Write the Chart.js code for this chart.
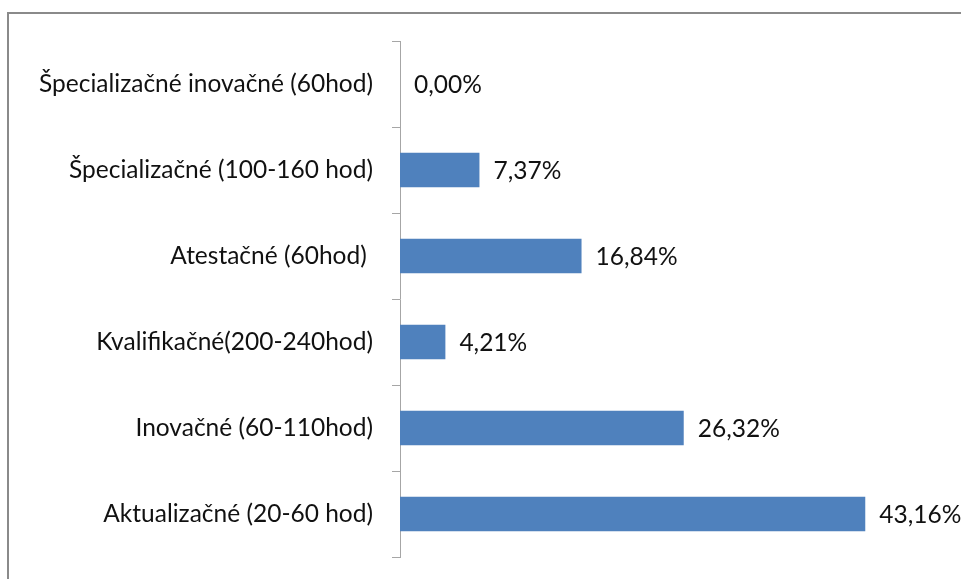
<!DOCTYPE html>
<html>
<head>
<meta charset="utf-8">
<script src="https://cdn.jsdelivr.net/npm/chart.js@4"></script>
<style>
  html, body { margin: 0; padding: 0; background: #ffffff; }
  #wrap { width: 961px; height: 579px; position: relative; }
</style>
</head>
<body>
<div id="wrap"><canvas id="c" width="961" height="579"></canvas></div>
<script>
// Categories from top to bottom
const categories = [
  'Špecializačné inovačné (60hod)',
  'Špecializačné (100-160 hod)',
  'Atestačné (60hod) ',
  'Kvalifikačné(200-240hod)',
  'Inovačné (60-110hod)',
  'Aktualizačné (20-60 hod)'
];
// Share of each course type, in percent
const shares = [0.00, 7.37, 16.84, 4.21, 26.32, 43.16];

const FONT = 'Lato, "Open Sans", sans-serif';
const FONT_SIZE = 24.5;

// Outer frame of the chart panel (runs off the canvas at right and bottom)
const framePlugin = {
  id: 'frame',
  beforeDraw(chart) {
    const ctx = chart.ctx;
    ctx.save();
    ctx.strokeStyle = '#8a8a8a';
    ctx.lineWidth = 2;
    ctx.strokeRect(8, 13, 1000, 1000);
    ctx.restore();
  }
};

// Percentage labels to the right of each bar
const valueLabels = {
  id: 'valueLabels',
  afterDatasetsDraw(chart) {
    const ctx = chart.ctx;
    const meta = chart.getDatasetMeta(0);
    ctx.save();
    ctx.font = FONT_SIZE + 'px ' + FONT;
    ctx.fillStyle = '#111111';
    ctx.textAlign = 'left';
    ctx.textBaseline = 'middle';
    meta.data.forEach((bar, i) => {
      const txt = shares[i].toFixed(2).replace('.', ',') + '%';
      ctx.fillText(txt, bar.x + 14, bar.y + 1);
    });
    ctx.restore();
  }
};

new Chart(document.getElementById('c'), {
  type: 'bar',
  data: {
    labels: categories,
    datasets: [{
      data: shares,
      backgroundColor: '#4f81bd',
      borderWidth: 0,
      barPercentage: 0.4,
      categoryPercentage: 1.0
    }]
  },
  options: {
    indexAxis: 'y',
    responsive: false,
    animation: false,
    layout: { padding: { top: 41, bottom: 22, left: 0, right: 22 } },
    plugins: {
      legend: { display: false },
      tooltip: { enabled: false }
    },
    scales: {
      x: {
        display: false,
        min: 0,
        max: 50
      },
      y: {
        afterFit(scale) {
          scale.width = 400;
          scale.paddingTop = 0;
          scale.paddingBottom = 0;
        },
        grid: {
          display: true,
          drawOnChartArea: false,
          drawTicks: true,
          tickLength: 8,
          color: '#a6a6a6',
          offset: true
        },
        border: { display: true, color: '#a6a6a6', width: 1 },
        ticks: {
          padding: 19,
          color: '#111111',
          font: { family: FONT, size: FONT_SIZE }
        }
      }
    }
  },
  plugins: [framePlugin, valueLabels]
});
</script>
</body>
</html>
